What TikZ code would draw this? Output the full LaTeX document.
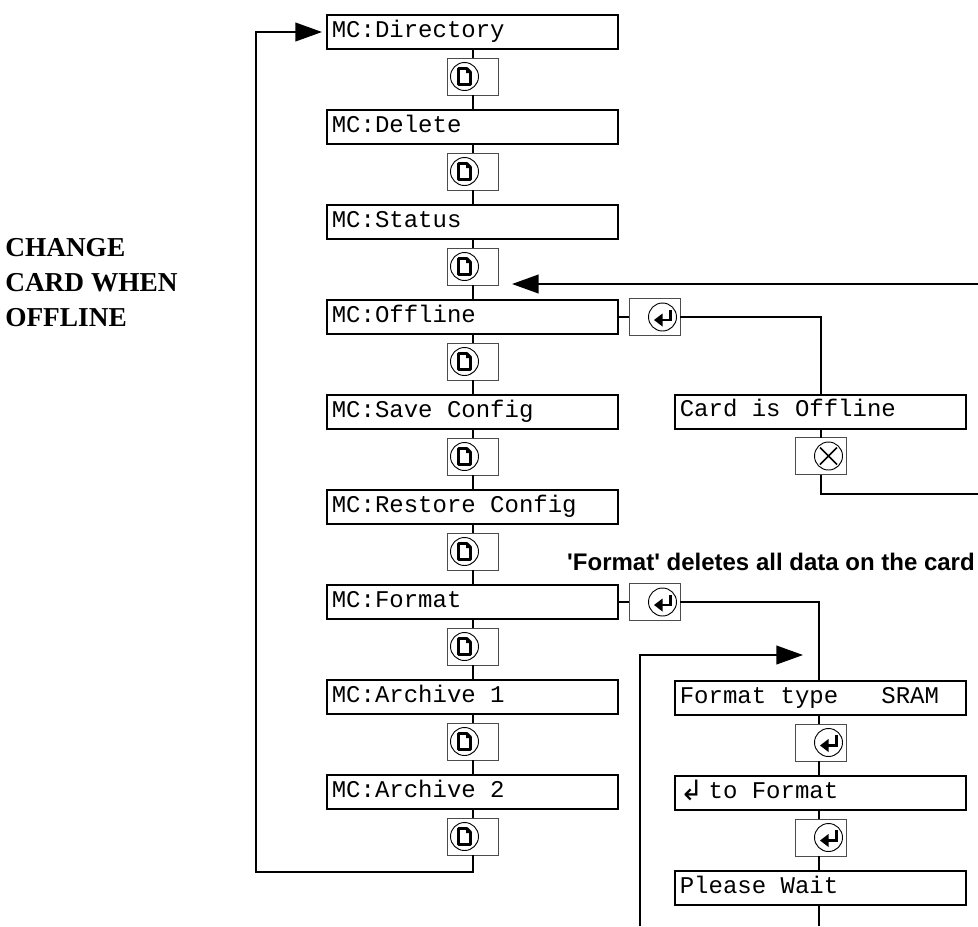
\documentclass[tikz,border=0pt]{standalone}
\usepackage{fontspec}
\usepackage{tikz}
\usetikzlibrary{positioning,arrows.meta}
\newfontfamily\lcdfont{Liberation Mono}
\newfontfamily\notefont{Liberation Serif}
\newfontfamily\warnfont{Liberation Sans}
\newfontfamily\symfont{DejaVu Sans}

\begin{document}
\begin{tikzpicture}[
  x=0.75pt, y=-0.75pt,
  node distance=11.25pt,
  menubox/.style={draw, line width=1.5pt, outer sep=0pt, minimum width=218.25pt, minimum height=25.5pt,
    inner sep=3.6pt, text width=211pt, align=flush left, text height=10.5pt, text depth=3pt,
    font=\lcdfont\fontsize{18}{20}\selectfont},
  keybox/.style={draw=black!70, line width=0.7pt, outer sep=0pt, minimum width=38.25pt, minimum height=27.75pt, inner sep=0pt},
  link/.style={line width=1.5pt},
  arr/.style={-{Triangle[length=20pt,width=14pt]}, line width=1.5pt},
  pagesym/.pic={
    \draw[line width=0.7pt] (-8,0) circle (14);
    \draw[line width=2pt, line join=round] (-14,-8) -- (-5.5,-8) -- (-2,-4.5) -- (-2,8) -- (-14,8) -- cycle;
    \fill (-6.5,-8) -- (-2,-3.5) -- (-6.5,-3.5) -- cycle;
  },
  entersym/.pic={
    \draw[line width=0.7pt] (8,0) circle (14);
    \draw[line width=2pt] (16,-7.5) -- (16,3) -- (6,3);
    \fill (8,-3.5) -- (8,9.5) -- (-0.5,3) -- cycle;
  },
  cancelsym/.pic={
    \draw[line width=0.7pt] (8,0) circle (14);
    \draw[line width=1.2pt] (-0.5,-8.5) -- (16.5,8.5) (-0.5,8.5) -- (16.5,-8.5);
  }
]
\useasboundingbox (0,0) rectangle (978,926);

% Side note
\node[anchor=west, align=left, inner sep=0pt, font=\notefont\bfseries\fontsize{20.5}{26.25}\selectfont] (note) at (5,283) {CHANGE\\CARD WHEN\\OFFLINE};

% Left column
\node[menubox] (menudir) at (472.5,32) {MC:Directory};
\node[keybox, below=6.75pt of menudir] (keydir) {};
\node[menubox, below=of keydir] (menudel) {MC:Delete};
\node[keybox, below=6.75pt of menudel] (keydel) {};
\node[menubox, below=of keydel] (menustat) {MC:Status};
\node[keybox, below=6.75pt of menustat] (keystat) {};
\node[menubox, below=of keystat] (menuoff) {MC:Offline};
\node[keybox, below=6.75pt of menuoff] (keyoff) {};
\node[menubox, below=of keyoff] (menusave) {MC:Save Config};
\node[keybox, below=6.75pt of menusave] (keysave) {};
\node[menubox, below=of keysave] (menurest) {MC:Restore Config};
\node[keybox, below=6.75pt of menurest] (keyrest) {};
\node[menubox, below=of keyrest] (menufmt) {MC:Format};
\node[keybox, below=6.75pt of menufmt] (keyfmt) {};
\node[menubox, below=of keyfmt] (menuarca) {MC:Archive 1};
\node[keybox, below=6.75pt of menuarca] (keyarca) {};
\node[menubox, below=of keyarca] (menuarcb) {MC:Archive 2};
\node[keybox, below=6.75pt of menuarcb] (keyarcb) {};

% Enter keys beside the menu
\node[keybox, right=8.25pt of menuoff] (enteroff) {};
\node[keybox, right=8.25pt of menufmt] (enterfmt) {};

% Right column
\node[menubox] (card) at (820.5,411.5) {Card is Offline};
\node[keybox, below=6.75pt of card] (keycard) {};
\node[font=\warnfont\bfseries\fontsize{18}{20}\selectfont, anchor=east, inner sep=0pt] (warn) at (975,562) {'Format' deletes all data on the card};
\node[menubox] (fmttype) at (820.5,698) {Format type~~~SRAM};
\node[keybox, below=6.75pt of fmttype] (keytype) {};
\node[menubox, below=of keytype] (fmtgo) {\makebox[10.8pt][l]{\symfont\fontsize{21}{21}\selectfont\raisebox{-2pt}{↲}}~to Format};
\node[keybox, below=6.75pt of fmtgo] (keygo) {};
\node[menubox, below=of keygo] (wait) {Please Wait};

% Key symbols
\pic at (keydir) {pagesym};
\pic at (keydel) {pagesym};
\pic at (keystat) {pagesym};
\pic at (keyoff) {pagesym};
\pic at (keysave) {pagesym};
\pic at (keyrest) {pagesym};
\pic at (keyfmt) {pagesym};
\pic at (keyarca) {pagesym};
\pic at (keyarcb) {pagesym};
\pic at (enteroff) {entersym};
\pic at (enterfmt) {entersym};
\pic at (keycard) {cancelsym};
\pic at (keytype) {entersym};
\pic at (keygo) {entersym};

% Free ends
\coordinate (botleft) at (256,872);
\coordinate (retfrom) at (978,284);
\coordinate (rettip) at (512,284);
\coordinate (cardend) at (978,494);
\coordinate (feedfrom) at (640,926);
\coordinate (feedtip) at (803,655);
\coordinate (waitend) at (818.5,926);

% Arrows
\draw[link] (menudir) -- (keydir);
\draw[link] (keydir) -- (menudel);
\draw[link] (menudel) -- (keydel);
\draw[link] (keydel) -- (menustat);
\draw[link] (menustat) -- (keystat);
\draw[link] (keystat) -- (menuoff);
\draw[link] (menuoff) -- (keyoff);
\draw[link] (keyoff) -- (menusave);
\draw[link] (menusave) -- (keysave);
\draw[link] (keysave) -- (menurest);
\draw[link] (menurest) -- (keyrest);
\draw[link] (keyrest) -- (menufmt);
\draw[link] (menufmt) -- (keyfmt);
\draw[link] (keyfmt) -- (menuarca);
\draw[link] (menuarca) -- (keyarca);
\draw[link] (keyarca) -- (menuarcb);
\draw[link] (menuarcb) -- (keyarcb);
\draw[arr, shorten >=3.75pt] (keyarcb.south) |- (botleft) |- (menudir.west);

% Offline branch
\draw[link] (menuoff) -- (enteroff);
\draw[link] (enteroff.east) -| (card.north);
\draw[link] (card) -- (keycard);
\draw[link] (keycard.south) |- (cardend);
\draw[arr] (retfrom) -- (rettip);

% Format branch
\draw[link] (menufmt) -- (enterfmt);
\draw[link] (enterfmt.east) -| ([xshift=-1.5pt]fmttype.north);
\draw[arr] (feedfrom) |- (feedtip);
\draw[link] ([xshift=-1.5pt]fmttype.south) -- ([xshift=-1.5pt]keytype.north);
\draw[link] ([xshift=-1.5pt]keytype.south) -- ([xshift=-1.5pt]fmtgo.north);
\draw[link] ([xshift=-1.5pt]fmtgo.south) -- ([xshift=-1.5pt]keygo.north);
\draw[link] ([xshift=-1.5pt]keygo.south) -- ([xshift=-1.5pt]wait.north);
\draw[link] ([xshift=-1.5pt]wait.south) -- (waitend);
\end{tikzpicture}
\end{document}
